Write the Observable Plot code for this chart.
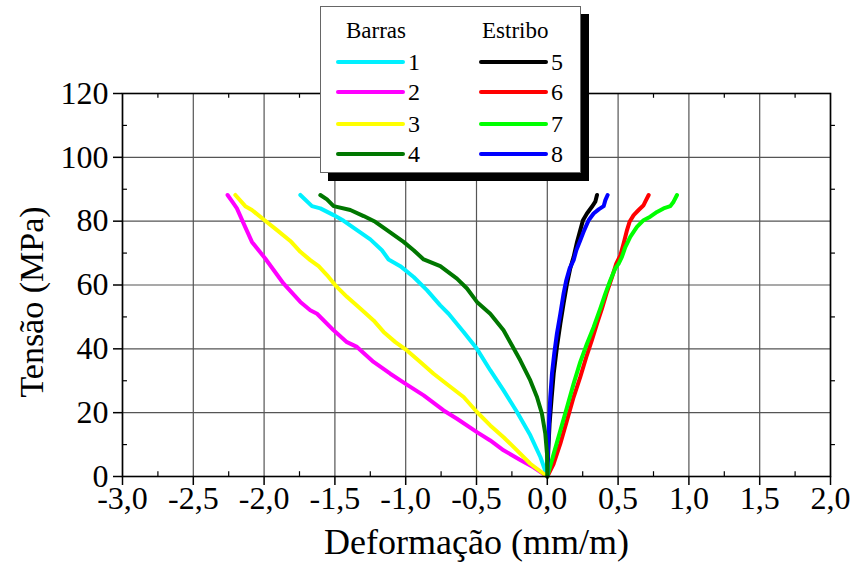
<!DOCTYPE html>
<html>
<head>
<meta charset="utf-8">
<script src="https://cdn.jsdelivr.net/npm/d3@7"></script>
<script src="https://cdn.jsdelivr.net/npm/@observablehq/plot@0.6"></script>
<style>
  html, body { margin: 0; padding: 0; background: white; }
  #wrap { position: relative; width: 852px; height: 566px; }
  #legend { position: absolute; left: 320px; top: 6px; width: 261px; height: 167px;
            box-sizing: border-box; border: 1px solid #666; background: white;
            box-shadow: 8px 8px 0 black; }
</style>
</head>
<body>
<div id="wrap"><div id="legend"></div></div>
<script>
// ---- Data (strain mm/m, stress MPa) ----
const seriesNames = ["1","2","3","4","5","6","7","8"];
const seriesColors = ["#00f0ff","#ff00ff","#ffff00","#007700","#000000","#ff0000","#00ff00","#0000ff"];
const groupTitles = ["Barras","Estribo"];

const s1x = [-1.744,-1.662,-1.603,-1.509,-1.438,-1.344,-1.250,-1.168,-1.121,-1.038,-0.944,-0.850,-0.756,-0.697,-0.591,-0.497,-0.403,-0.309,-0.214,-0.120,-0.049,0];
const s1y = [88.2,84.7,84.0,81.9,80.1,77.2,74.3,70.9,68.0,65.9,62.5,58.4,53.6,51.0,45.3,40.0,33.3,27.0,20.2,12.9,6.1,0];
const s2x = [-2.258,-2.215,-2.192,-2.145,-2.086,-1.992,-1.862,-1.744,-1.674,-1.626,-1.509,-1.415,-1.344,-1.227,-1.109,-1.003,-0.873,-0.732,-0.638,-0.497,-0.403,-0.309,-0.191,-0.097,0];
const s2y = [88.2,85.5,84.0,79.3,73.5,68.3,60.4,54.7,52.1,51.0,45.8,42.1,40.6,35.9,32.2,29.1,25.4,20.7,18.1,13.9,11.3,8.2,5.2,2.9,0];
const s3x = [-2.203,-2.133,-2.086,-2.003,-1.909,-1.815,-1.744,-1.674,-1.615,-1.556,-1.497,-1.415,-1.321,-1.227,-1.156,-1.073,-0.991,-0.897,-0.803,-0.708,-0.591,-0.497,-0.403,-0.309,-0.214,-0.120,0];
const s3y = [88.2,84.7,83.5,80.5,77.2,73.8,70.4,67.8,65.9,63.1,59.9,56.3,52.6,48.9,45.3,42.1,39.5,35.9,32.2,28.9,24.9,20.2,16.0,12.3,8.2,4.0,0];
const s4x = [-1.603,-1.556,-1.509,-1.391,-1.297,-1.215,-1.132,-1.015,-0.944,-0.873,-0.756,-0.638,-0.567,-0.497,-0.403,-0.309,-0.250,-0.191,-0.120,-0.073,-0.038,-0.014,-0.002,0];
const s4y = [88.2,86.8,84.7,83.5,81.6,79.8,77.2,73.5,70.9,68.0,65.9,62.0,58.9,54.7,51.0,45.8,41.1,36.4,30.1,24.9,19.7,13.4,7.1,0];
const s5x = [0.351,0.339,0.315,0.280,0.252,0.233,0.210,0.186,0.162,0.139,0.115,0.092,0.068,0.045,0.031,0.016,0.007,0];
const s5y = [88.2,86.1,84.5,82.4,80.3,77.2,73.5,68.8,65.2,60.4,54.2,47.9,40.6,32.2,24.9,16.5,8.2,0];
const s6x = [0.716,0.692,0.680,0.645,0.610,0.581,0.563,0.539,0.516,0.487,0.457,0.421,0.386,0.351,0.315,0.275,0.233,0.186,0.139,0.092,0.045,0];
const s6y = [88.2,86.1,85.0,83.5,81.9,79.8,77.2,73.0,69.3,66.7,62.5,57.8,52.6,47.9,42.7,37.4,31.2,24.9,17.6,10.3,4.0,0];
const s7x = [0.916,0.892,0.869,0.821,0.775,0.727,0.680,0.633,0.586,0.551,0.527,0.504,0.480,0.445,0.410,0.374,0.327,0.280,0.233,0.186,0.139,0.092,0.045,0];
const s7y = [88.2,86.1,84.7,84.0,82.9,81.4,80.3,78.2,75.1,71.9,68.8,66.7,65.2,61.5,57.3,52.6,46.8,41.6,35.9,29.1,21.7,14.4,7.1,0];
const s8x = [0.426,0.410,0.398,0.363,0.327,0.292,0.261,0.233,0.205,0.186,0.158,0.134,0.115,0.092,0.068,0.049,0.033,0.021,0.012,0.005,0];
const s8y = [88.2,86.6,84.7,83.7,82.4,80.3,77.2,74.0,70.9,67.8,65.2,61.5,57.3,51.0,44.8,38.5,32.2,24.9,16.5,8.2,0];

const xTicks = [-3,-2.5,-2,-1.5,-1,-0.5,0,0.5,1,1.5,2];
const xMinor = [-2.75,-2.25,-1.75,-1.25,-0.75,-0.25,0.25,0.75,1.25,1.75];
const yTicks = [0,20,40,60,80,100,120];
const yMinor = [10,30,50,70,90,110];
const xTitle = "Deformação (mm/m)";
const yTitle = "Tensão (MPa)";

const allX = [s1x,s2x,s3x,s4x,s5x,s6x,s7x,s8x];
const allY = [s1y,s2y,s3y,s4y,s5y,s6y,s7y,s8y];
const series = allX.map((xs, i) => xs.map((x, j) => ({x, y: allY[i][j]})));

const font = "'Liberation Serif', 'Times New Roman', serif";
const fmt = d => d.toFixed(1).replace(".", ",");
const drawOrder = [4,5,6,7,0,1,2,3];

const chart = Plot.plot({
  width: 852, height: 566,
  marginTop: 93, marginBottom: 90, marginLeft: 122, marginRight: 22,
  style: {fontFamily: font, background: "white", color: "black"},
  x: {domain: [-3, 2]},
  y: {domain: [0, 120]},
  marks: [
    Plot.gridX(xTicks, {stroke: "#555", strokeOpacity: 1, strokeWidth: 1.2}),
    Plot.gridY(yTicks, {stroke: "#555", strokeOpacity: 1, strokeWidth: 1.2}),
    ...drawOrder.map(i => Plot.line(series[i], {x: "x", y: "y", stroke: seriesColors[i], strokeWidth: 4, strokeLinecap: "round", strokeLinejoin: "round"})),
    Plot.frame({stroke: "black", strokeWidth: 1.6}),
    Plot.ruleX(xMinor, {y1: 0, y2: 1.5, stroke: "black", strokeWidth: 1.2}),
    Plot.ruleX(xMinor, {y1: 120, y2: 118.5, stroke: "black", strokeWidth: 1.2}),
    Plot.ruleY(yMinor, {x1: -3, x2: -2.965, stroke: "black", strokeWidth: 1.2}),
    Plot.ruleY(yMinor, {x1: 2, x2: 2.035, stroke: "black", strokeWidth: 1.2}),
    Plot.axisX(xTicks, {tickSize: 9, tickPadding: 1, fontSize: 32, fontFamily: font, tickFormat: fmt, label: null, strokeWidth: 1.5}),
    Plot.axisY(yTicks, {tickSize: 9, tickPadding: 5, fontSize: 32, fontFamily: font, label: null, strokeWidth: 1.5}),
    Plot.text([xTitle], {frameAnchor: "bottom", dy: 66, fontSize: 36, fontFamily: font, lineAnchor: "middle", textAnchor: "middle", fill: "black"}),
    Plot.text([yTitle], {frameAnchor: "left", dx: -90, dy: 17, rotate: -90, fontSize: 34, fontFamily: font, lineAnchor: "middle", textAnchor: "middle", fill: "black"})
  ]
});
document.getElementById("wrap").insertBefore(chart, document.getElementById("legend"));

// ---- Legend ----
const lsvg = d3.select("#legend").append("svg").attr("width", 259).attr("height", 165)
  .style("font-family", font);
const cols = [{x0: 17, title: groupTitles[0], tx: 25}, {x0: 160, title: groupTitles[1], tx: 161}];
const rowsY = [55, 85, 117, 147];
cols.forEach((c, ci) => {
  lsvg.append("text").attr("x", c.tx).attr("y", 31).attr("font-size", 23).text(c.title);
  for (let r = 0; r < 4; r++) {
    const i = ci * 4 + r;
    lsvg.append("line").attr("x1", c.x0).attr("x2", c.x0 + 65).attr("y1", rowsY[r]).attr("y2", rowsY[r])
      .attr("stroke", seriesColors[i]).attr("stroke-width", 4).attr("stroke-linecap", "round");
    lsvg.append("text").attr("x", c.x0 + 70).attr("y", rowsY[r] + 8).attr("font-size", 24).text(seriesNames[i]);
  }
});
</script>
</body>
</html>
